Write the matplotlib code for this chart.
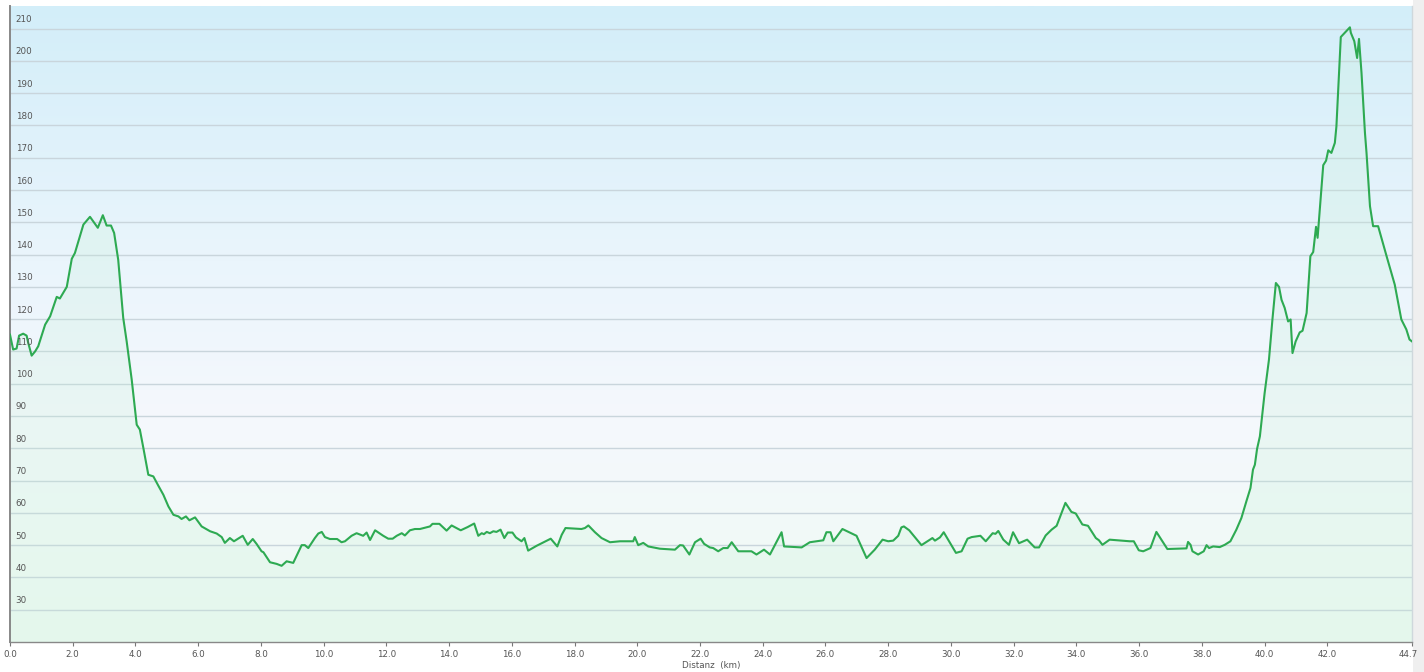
import numpy as np
import matplotlib
matplotlib.use("Agg")
import matplotlib.pyplot as plt
from matplotlib.colors import LinearSegmentedColormap

# Höhenprofil: Distanz (km) und Höhe (m)
distanz = [0.00, 0.10, 0.21, 0.29, 0.42, 0.53, 0.58, 0.69, 0.80, 0.90, 1.12, 1.28, 1.49, 1.59, 1.81,
           1.97, 2.07, 2.34, 2.55, 2.80, 2.96, 3.08, 3.22, 3.32, 3.45, 3.61, 3.72, 3.88, 4.04, 4.14,
           4.25, 4.41, 4.57, 4.73, 4.89, 5.05, 5.21, 5.37, 5.47, 5.61, 5.72, 5.90, 6.11, 6.38, 6.59,
           6.75, 6.85, 7.01, 7.14, 7.42, 7.58, 7.74, 7.86, 8.02, 8.08, 8.29, 8.50, 8.66, 8.82, 9.03,
           9.30, 9.40, 9.51, 9.72, 9.83, 9.94, 10.04, 10.20, 10.43, 10.57, 10.68, 10.89, 11.05, 11.26,
           11.37, 11.48, 11.64, 11.90, 12.06, 12.20, 12.33, 12.49, 12.59, 12.75, 12.91, 13.07, 13.39,
           13.47, 13.69, 13.92, 14.08, 14.37, 14.59, 14.80, 14.93, 15.04, 15.11, 15.20, 15.30, 15.41,
           15.51, 15.64, 15.76, 15.87, 16.02, 16.13, 16.31, 16.40, 16.52, 16.79, 17.24, 17.45, 17.59,
           17.71, 18.22, 18.33, 18.44, 18.65, 18.86, 19.13, 19.45, 19.87, 19.92, 20.03, 20.19, 20.35,
           20.72, 21.20, 21.36, 21.46, 21.66, 21.84, 22.02, 22.13, 22.31, 22.42, 22.58, 22.74, 22.88,
           23.01, 23.22, 23.64, 23.80, 24.04, 24.23, 24.60, 24.68, 25.24, 25.50, 25.93, 26.03, 26.16,
           26.25, 26.54, 26.99, 27.31, 27.57, 27.82, 28.00, 28.16, 28.32, 28.42, 28.50, 28.67, 29.06,
           29.41, 29.49, 29.65, 29.77, 30.16, 30.34, 30.53, 30.66, 30.94, 31.11, 31.33, 31.42, 31.51,
           31.67, 31.85, 31.98, 32.17, 32.43, 32.67, 32.81, 33.02, 33.21, 33.37, 33.65, 33.84, 33.98,
           34.19, 34.37, 34.62, 34.72, 34.83, 35.06, 35.70, 35.83, 35.99, 36.13, 36.36, 36.55, 36.90,
           37.51, 37.56, 37.64, 37.70, 37.88, 38.06, 38.15, 38.23, 38.36, 38.57, 38.73, 38.91, 39.10,
           39.26, 39.42, 39.55, 39.63, 39.69, 39.76, 39.85, 40.00, 40.14, 40.25, 40.36, 40.46, 40.54,
           40.64, 40.75, 40.83, 40.89, 40.99, 41.12, 41.21, 41.34, 41.46, 41.55, 41.64, 41.69, 41.87,
           41.96, 42.03, 42.13, 42.24, 42.29, 42.38, 42.43, 42.72, 42.75, 42.86, 42.95, 43.01, 43.09,
           43.20, 43.25, 43.36, 43.46, 43.62, 43.89, 44.15, 44.36, 44.52, 44.62, 44.70]
hoehe = [115.2, 110.6, 110.9, 114.9, 115.5, 114.9, 112.7, 108.7, 110.0, 111.6, 118.3, 120.9, 126.9, 126.4, 130.0,
         138.7, 140.5, 149.3, 151.7, 148.3, 152.2, 149.0, 149.0, 146.7, 138.4, 120.4, 113.1, 101.3, 87.3, 85.8,
         80.2, 71.8, 71.3, 68.4, 65.6, 62.0, 59.4, 58.9, 58.1, 58.9, 57.7, 58.6, 55.8, 54.3, 53.6,
         52.5, 50.7, 52.2, 51.2, 52.9, 50.1, 51.9, 50.4, 48.1, 47.8, 44.7, 44.2, 43.6, 45.0, 44.5,
         50.0, 50.0, 49.1, 52.2, 53.6, 54.1, 52.5, 51.9, 51.9, 50.9, 51.2, 52.9, 53.7, 52.9,
         53.9, 51.6, 54.6, 52.9, 52.0, 52.0, 52.9, 53.7, 53.0, 54.6, 55.0, 55.0, 55.8,
         56.6, 56.6, 54.5, 56.1, 54.6, 55.6, 56.7, 52.9, 53.7, 53.4, 54.1, 53.7, 54.3,
         54.1, 54.8, 52.2, 53.9, 53.9, 52.4, 51.2, 52.2, 48.3, 49.8, 52.0, 49.6, 53.2,
         55.3, 55.0, 55.3, 56.1, 54.0, 52.2, 50.9, 51.2, 51.2, 52.5, 50.0, 50.7, 49.6,
         48.9, 48.6, 50.0, 49.9, 47.1, 50.9, 52.0, 50.4, 49.3, 49.1, 48.1, 49.1, 49.1,
         50.9, 48.1, 48.1, 47.1, 48.6, 47.1, 54.0, 49.6, 49.3, 50.9, 51.5, 54.0, 54.0,
         51.2, 55.0, 52.9, 46.0, 48.6, 51.7, 51.2, 51.4, 52.9, 55.5, 55.8, 54.6, 50.0,
         52.2, 51.4, 52.4, 54.0, 47.6, 48.1, 52.0, 52.5, 52.9, 51.2, 53.7, 53.5, 54.4,
         51.7, 50.1, 54.0, 50.6, 51.7, 49.3, 49.3, 53.0, 54.8, 56.0, 63.1, 60.3, 59.8,
         56.4, 56.0, 52.2, 51.5, 50.1, 51.7, 51.2, 51.2, 48.4, 48.1, 49.1, 54.1, 48.8,
         49.0, 51.0, 50.1, 48.1, 47.1, 48.1, 50.0, 49.1, 49.6, 49.4, 50.1, 51.2, 54.8,
         58.4, 63.6, 67.7, 73.4, 74.9, 79.8, 83.7, 97.0, 107.5, 119.9, 131.2, 130.0, 126.0,
         123.5, 119.3, 119.9, 109.5, 113.1, 115.9, 116.4, 121.9, 139.5, 140.8, 148.6, 145.2, 167.7,
         169.1, 172.3, 171.5, 174.6, 179.7, 197.3, 207.4, 210.4, 208.7, 206.1, 200.9, 206.8, 196.3,
         177.7, 171.5, 155.0, 148.8, 148.8, 139.5, 130.7, 119.9, 116.8, 113.7, 113.1]

x_ticks = [0, 2, 4, 6, 8, 10, 12, 14, 16, 18, 20, 22, 24, 26, 28, 30, 32, 34, 36, 38, 40, 42, 44.7]
y_ticks = list(range(30, 220, 10))

x_min, x_max = 0, 44.7
y_min, y_max = 20, 217

fig = plt.figure(figsize=(14.24, 6.72), dpi=100, facecolor='white')
# grauer Streifen rechts (hinter allem)
fig.patches.append(plt.Rectangle((1413 / 1424, 0), 11 / 1424, 1, transform=fig.transFigure,
                                 facecolor='#efefef', edgecolor='none', zorder=-5))
ax = fig.add_axes([10 / 1424, 30 / 672, 1402 / 1424, 636 / 672])

# Hintergrund-Verlauf: blau oben, fast weiß in der Mitte, grün unten
cmap = LinearSegmentedColormap.from_list('bg', [(0.0, '#eefbf3'), (0.35, '#f5f8fd'),
                                               (0.6, '#eaf5fc'), (1.0, '#d3eef9')])
grad = np.linspace(0, 1, 256).reshape(-1, 1)
ax.imshow(grad, cmap=cmap, origin='lower', aspect='auto',
          extent=[x_min, x_max, y_min, y_max], zorder=0)

for y in y_ticks:
    ax.axhline(y, color='#c9d5dc', lw=1.0, zorder=1)
    ax.text(0.18, y + 1.4, str(y), fontsize=6.3, color='#555555', va='bottom', ha='left', zorder=4)

# Fläche unter der Linie, leicht grün
ax.fill_between(distanz, hoehe, y_min, color='#c4f0d6', alpha=0.22, lw=0, zorder=2)
ax.plot(distanz, hoehe, color='#2eaa52', lw=1.5, zorder=3)

ax.set_xlim(x_min, x_max)
ax.set_ylim(y_min, y_max)
ax.set_xticks(x_ticks)
# letzte Beschriftung (44.7) separat, etwas nach links versetzt
labels = ['%.1f' % v for v in x_ticks]
labels[-1] = ''
ax.set_xticklabels(labels, fontsize=6.3, color='#555555')
ax.annotate('%.1f' % x_ticks[-1], xy=(x_ticks[-1], 0), xycoords=('data', 'axes fraction'),
            xytext=(-3, -6), textcoords='offset points', ha='center', va='top',
            fontsize=6.3, color='#555555', annotation_clip=False, zorder=10)
ax.set_yticks([])
ax.tick_params(axis='x', length=3, width=0.8, color='#777777', pad=3)
ax.set_xlabel('Distanz  (km)', fontsize=6.3, color='#555555', labelpad=1)

ax.spines['top'].set_visible(False)
ax.spines['right'].set_color('#cfd8dc')
ax.spines['right'].set_linewidth(1.0)
ax.spines['left'].set_color('#888888')
ax.spines['left'].set_linewidth(1.4)
ax.spines['bottom'].set_color('#888888')
ax.spines['bottom'].set_linewidth(1.0)

fig.savefig('out.png', dpi=100, facecolor='white')
